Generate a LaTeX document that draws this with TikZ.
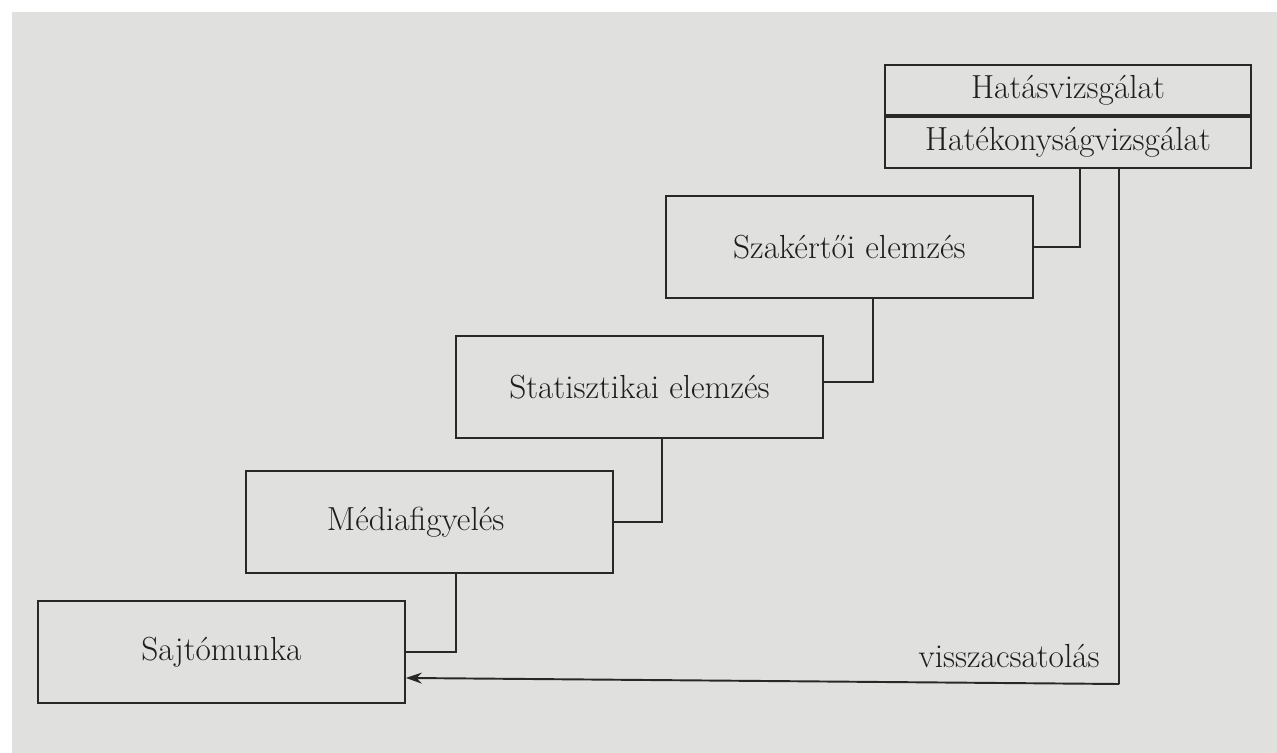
\documentclass[tikz,border=0pt]{standalone}
\usetikzlibrary{arrows.meta,positioning}
\definecolor{paper}{RGB}{224,224,222}
\definecolor{ink}{RGB}{40,40,40}
\definecolor{txt}{RGB}{30,30,30}
\tikzset{
  px/.style={x=0.02cm,y=-0.02cm},
  stepbox/.style={draw=ink, line width=1.1pt, rectangle, inner sep=0pt,
    minimum width=7.34cm, minimum height=2.04cm, text=txt,
    font=\fontsize{19}{22}\selectfont},
  halfbox/.style={stepbox, minimum height=1.01cm},
  link/.style={draw=ink, line width=1.1pt},
  lbl/.style={text=txt, font=\fontsize{19}{22}\selectfont, inner sep=0pt}
}
\begin{document}
\begin{tikzpicture}[px]
\useasboundingbox (0,0) rectangle (1277,753);
\fill[paper] (12,12) rectangle (1277,753);
\node[stepbox, anchor=north west] (saj) at (37,600) {Sajtómunka};
\node[stepbox, anchor=north west] (med) at (245,470) {\hspace*{-0.55cm}Médiafigyelés};
\node[stepbox, anchor=north west] (stat) at (455,335) {Statisztikai elemzés};
\node[stepbox, anchor=north west] (szak) at (665,195) {Szakértői elemzés};
\node[halfbox, anchor=north west, minimum width=7.32cm] (hat1) at (884,64) {Hatásvizsgálat};
\node[halfbox, anchor=north, minimum width=7.32cm] (hat2) at (hat1.south) {Hatékonyságvizsgálat};
\draw[link] (saj.east) -| ([xshift=4.22cm]med.south west);
\draw[link] (med.east) -| ([xshift=4.14cm]stat.south west);
\draw[link] ([yshift=0.1cm]stat.east) -| ([xshift=4.16cm]szak.south west);
\draw[link] (szak.east) -| ([xshift=3.92cm]hat2.south west);
\coordinate (fb) at (1119,684);
\draw[link, -{Stealth[length=3.2mm,width=2.2mm]}] ([xshift=4.7cm]hat2.south west) |- (fb) -- ([yshift=-0.52cm]saj.east);
\node[lbl, anchor=south east] (vc) at ([xshift=-0.38cm,yshift=0.32cm]fb) {visszacsatolás};
\end{tikzpicture}
\end{document}
